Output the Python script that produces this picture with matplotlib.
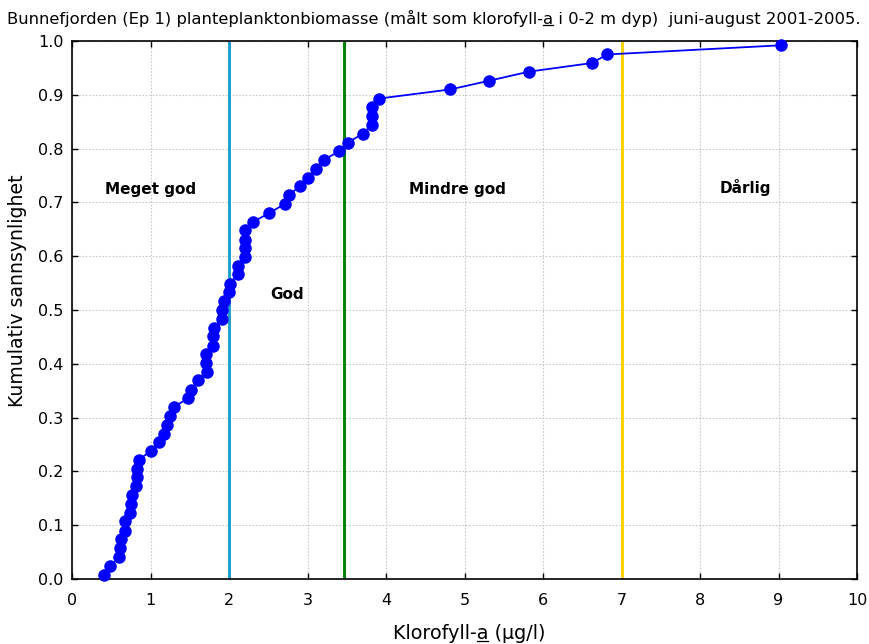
import matplotlib
matplotlib.use("Agg")
import matplotlib.pyplot as plt
from matplotlib.lines import Line2D

plt.rcParams['font.family'] = ['DejaVu Sans']

# Data (sorted chlorophyll values and cumulative probability)
klorofyll = [0.41, 0.49, 0.60, 0.61, 0.62, 0.67, 0.67, 0.74, 0.75, 0.77,
             0.82, 0.83, 0.83, 0.85, 1.00, 1.11, 1.17, 1.21, 1.25, 1.30,
             1.48, 1.51, 1.61, 1.72, 1.71, 1.71, 1.80, 1.80, 1.81, 1.91,
             1.91, 1.94, 2.00, 2.01, 2.11, 2.11, 2.20, 2.21, 2.21, 2.20,
             2.31, 2.51, 2.71, 2.76, 2.90, 3.00, 3.11, 3.21, 3.40, 3.51,
             3.71, 3.82, 3.82, 3.82, 3.91, 4.82, 5.31, 5.82, 6.62, 6.82,
             9.03]
sannsynlighet = [0.008, 0.025, 0.041, 0.057, 0.074, 0.090, 0.107, 0.123, 0.139, 0.156,
                 0.172, 0.189, 0.205, 0.221, 0.238, 0.254, 0.270, 0.287, 0.303, 0.320,
                 0.336, 0.352, 0.369, 0.385, 0.402, 0.418, 0.434, 0.451, 0.467, 0.484,
                 0.500, 0.516, 0.533, 0.549, 0.566, 0.582, 0.598, 0.615, 0.631, 0.648,
                 0.664, 0.680, 0.697, 0.713, 0.730, 0.746, 0.762, 0.779, 0.795, 0.811,
                 0.828, 0.844, 0.861, 0.877, 0.893, 0.910, 0.926, 0.943, 0.959, 0.975,
                 0.992]

grenser = [2.0, 3.47, 7.0]
grense_farger = ['#1a9fd0', '#008000', '#ffd200']

klasser = ['Meget god', 'God', 'Mindre god', 'Dårlig']
klasse_x = [0.42, 2.52, 4.29, 8.25]
klasse_y = [0.724, 0.529, 0.724, 0.728]

xticks = [0, 1, 2, 3, 4, 5, 6, 7, 8, 9, 10]
yticks = [0.0, 0.1, 0.2, 0.3, 0.4, 0.5, 0.6, 0.7, 0.8, 0.9, 1.0]

title_pre = 'Bunnefjorden (Ep 1) planteplanktonbiomasse (målt som klorofyll-'
title_post = ' i 0-2 m dyp)  juni-august 2001-2005.'
xlab_pre = 'Klorofyll-'
xlab_post = ' (µg/l)'

W, H = 870, 644
fig = plt.figure(figsize=(W / 100, H / 100), dpi=100)
ax = fig.add_axes([72 / W, 65 / H, 785 / W, 538 / H])

ax.grid(True, color='#c8c8c8', linestyle=(0, (1.5, 1.5)), linewidth=0.8)
ax.set_axisbelow(True)

for gx, gc in zip(grenser, grense_farger):
    ax.axvline(gx, color=gc, linewidth=2.1, zorder=2)

ax.plot(klorofyll, sannsynlighet, color='#0000ff', linewidth=1.3, marker='o',
        markersize=8, markerfacecolor='#0000ff', markeredgecolor='#0000ff', zorder=3,
        clip_on=False)

for t, tx, ty in zip(klasser, klasse_x, klasse_y):
    ax.text(tx, ty, t, fontsize=11, fontweight='bold', ha='left', va='center')

ax.set_xlim(0, 10)
ax.set_ylim(0, 1.0)
ax.set_xticks(xticks)
ax.set_xticklabels([str(v) for v in xticks])
ax.set_yticks(yticks)
ax.set_yticklabels([f"{v:.1f}" for v in yticks])
ax.tick_params(direction='in', top=True, right=True, length=4, width=1,
               labelsize=11.5)
ax.tick_params(axis='x', pad=10)
ax.tick_params(axis='y', pad=6)
for s in ax.spines.values():
    s.set_linewidth(1.2)

xl = ax.set_xlabel(xlab_pre + 'a' + xlab_post, fontsize=13.8)
ax.xaxis.set_label_coords(0.506, -(624 - 579) / 538)
ax.set_ylabel('Kumulativ sannsynlighet', fontsize=13.6)
ax.yaxis.set_label_coords(-(72 - 27) / 785, 0.535)

tt = fig.text(7 / W, 1 - 18 / H, title_pre + 'a' + title_post,
              fontsize=11.8, ha='left', va='center')

fig.canvas.draw()
renderer = fig.canvas.get_renderer()


def underline(text_obj, pre):
    fp = text_obj.get_fontproperties()
    bb = text_obj.get_window_extent(renderer)
    w_pre, _, _ = renderer.get_text_width_height_descent(pre, fp, ismath=False)
    w_a, _, _ = renderer.get_text_width_height_descent(pre + 'a', fp, ismath=False)
    _, _, d = renderer.get_text_width_height_descent(text_obj.get_text(), fp, ismath=False)
    base = bb.y0 + d
    yline = base - 0.12 * fp.get_size_in_points() * 100 / 72
    x0 = bb.x0 + w_pre + 0.5
    x1 = bb.x0 + w_a - 0.5
    fig.add_artist(Line2D([x0 / W, x1 / W], [yline / H, yline / H],
                          transform=fig.transFigure, color='black', linewidth=0.9))


underline(tt, title_pre)
underline(xl, xlab_pre)

fig.savefig('out.png', dpi=100, facecolor='white')
